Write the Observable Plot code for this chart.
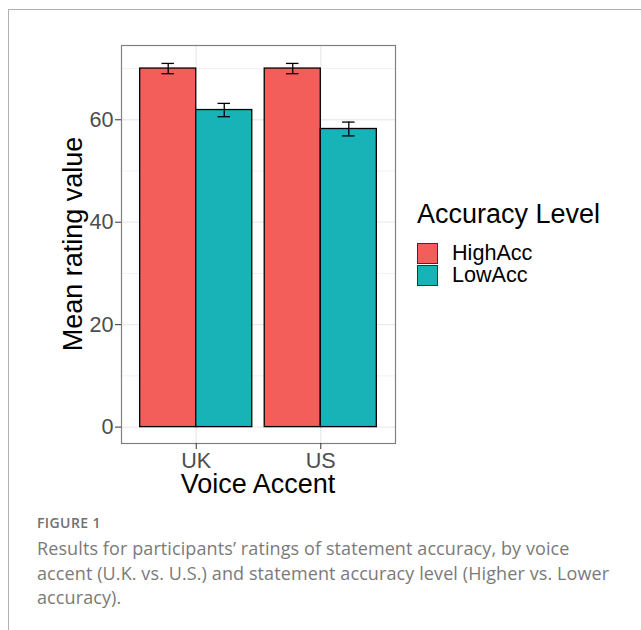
<!DOCTYPE html>
<html>
<head>
<meta charset="utf-8">
<script src="https://cdn.jsdelivr.net/npm/d3@7"></script>
<script src="https://cdn.jsdelivr.net/npm/@observablehq/plot@0.6"></script>
<style>
  html, body { margin: 0; padding: 0; background: #fff; }
  #page { position: relative; width: 641px; height: 630px; overflow: hidden; background: #fff; }
  #outer { position: absolute; left: 8px; top: 9px; width: 700px; height: 700px; pointer-events: none;
           border-left: 1px solid #b0b0b0; border-top: 1px solid #b0b0b0; }
  #chart { position: absolute; left: 0; top: 0; }
  .axtitle { position: absolute; font-family: "Liberation Sans", Arial, sans-serif; font-size: 27px;
             line-height: 20px; color: #000; white-space: nowrap; }
  #legend { position: absolute; left: 417px; top: 201px; font-family: "Liberation Sans", Arial, sans-serif; }
  #legend .ltitle { font-size: 27px; line-height: 27px; color: #000; white-space: nowrap; }
  #legend .row { display: flex; align-items: center; height: 22px; }
  #legend .key { width: 21px; height: 21px; box-sizing: border-box; border: 1px solid #333; }
  #legend .lab { font-size: 21.6px; line-height: 20px; margin-left: 14px; color: #000; white-space: nowrap; }
  #fig { position: absolute; left: 37px; top: 513px; font-family: "Open Sans", sans-serif;
         font-size: 14px; font-weight: 600; color: #707070; letter-spacing: 0.4px; }
  #cap { position: absolute; left: 37px; top: 536px; font-family: "Open Sans", sans-serif;
         font-size: 18px; letter-spacing: 0.1px; line-height: 24.5px; color: #7a7a7a; white-space: nowrap; }
</style>
</head>
<body>
<div id="page">
  <div id="chart"></div>
  <div id="outer"></div>
  <div class="axtitle" id="ytitle"></div>
  <div class="axtitle" id="xtitle"></div>
  <div id="legend"></div>
  <div id="fig">FIGURE 1</div>
  <div id="cap"></div>
</div>
<script>
// ---- data ----
const accents = ["UK", "US"];
const levels = ["HighAcc", "LowAcc"];
const meanHighAcc = [70.0, 70.0];
const meanLowAcc = [61.9, 58.2];
const seHighAcc = [1.0, 1.0];
const seLowAcc = [1.3, 1.35];
const colors = ["#F35E5A", "#17B3B7"];
const yMajorTicks = [0, 20, 40, 60];
const yMinorTicks = [10, 30, 50, 70];
const yTitle = "Mean rating value";
const xTitle = "Voice Accent";
const legendTitle = "Accuracy Level";
const captionLines = [
  "Results for participants\u2019 ratings of statement accuracy, by voice",
  "accent (U.K. vs. U.S.) and statement accuracy level (Higher vs. Lower",
  "accuracy)."
];

// ---- table (ggplot-style dodge: width 0.9 split across levels) ----
const means = [meanHighAcc, meanLowAcc];
const ses = [seHighAcc, seLowAcc];
const dodge = 0.9 / levels.length;
const rows = [];
accents.forEach((a, ai) => {
  levels.forEach((l, li) => {
    const x1 = ai + 1 - 0.45 + li * dodge;
    rows.push({
      accent: a, level: l,
      x1, x2: x1 + dodge, xc: x1 + dodge / 2,
      mean: means[li][ai], se: ses[li][ai],
      lo: means[li][ai] - ses[li][ai], hi: means[li][ai] + ses[li][ai]
    });
  });
});
const capHalf = 0.05;

const W = 400, H = 510;
const plot = Plot.plot({
  width: W, height: H,
  marginLeft: 121, marginRight: 5, marginTop: 45, marginBottom: 67,
  style: { fontFamily: "Liberation Sans, Arial, sans-serif", background: "transparent" },
  x: { type: "linear", domain: [0.4, 2.6], axis: null },
  y: { domain: [-3.2, 74.5], axis: null },
  color: { domain: levels, range: colors },
  marks: [
    Plot.ruleY(yMinorTicks, { stroke: "#ebebeb", strokeWidth: 0.7 }),
    Plot.ruleY(yMajorTicks, { stroke: "#ebebeb", strokeWidth: 1.3 }),
    Plot.ruleX([1, 2], { stroke: "#ebebeb", strokeWidth: 1.3 }),
    Plot.rectY(rows, { x1: "x1", x2: "x2", y1: 0, y2: "mean", fill: "level", stroke: "#000", strokeWidth: 1.3 }),
    Plot.ruleX(rows, { x: "xc", y1: "lo", y2: "hi", stroke: "#000", strokeWidth: 1.3 }),
    Plot.ruleY(rows, { y: "hi", x1: d => d.xc - capHalf, x2: d => d.xc + capHalf, stroke: "#000", strokeWidth: 1.3 }),
    Plot.ruleY(rows, { y: "lo", x1: d => d.xc - capHalf, x2: d => d.xc + capHalf, stroke: "#000", strokeWidth: 1.3 }),
    Plot.frame({ stroke: "#808080", strokeWidth: 1.2 }),
    Plot.axisY({ ticks: yMajorTicks, tickSize: 6, tickPadding: 2, fontSize: 21.6, fill: "#4d4d4d", stroke: "#333", label: null }),
    Plot.axisX({ ticks: [1, 2], tickFormat: d => accents[d - 1], tickSize: 6, tickPadding: 3, fontSize: 21.6, fill: "#4d4d4d", stroke: "#333", label: null })
  ]
});
document.getElementById("chart").appendChild(plot);

// axis titles
const yt = document.getElementById("ytitle");
yt.textContent = yTitle;
yt.style.left = "73px"; yt.style.top = "244px";
yt.style.transform = "translate(-50%, -50%) rotate(-90deg)";
const xt = document.getElementById("xtitle");
xt.textContent = xTitle;
xt.style.left = "258px"; xt.style.top = "474px";
xt.style.transform = "translateX(-50%)";

// legend
const lg = document.getElementById("legend");
const lt = document.createElement("div");
lt.className = "ltitle"; lt.textContent = legendTitle;
lt.style.marginBottom = "14px";
lg.appendChild(lt);
levels.forEach((l, i) => {
  const r = document.createElement("div"); r.className = "row";
  const k = document.createElement("div"); k.className = "key"; k.style.background = colors[i];
  const t = document.createElement("div"); t.className = "lab"; t.textContent = l;
  r.appendChild(k); r.appendChild(t); lg.appendChild(r);
});

// caption
document.getElementById("cap").innerHTML = captionLines.join("<br>");
</script>
</body>
</html>
